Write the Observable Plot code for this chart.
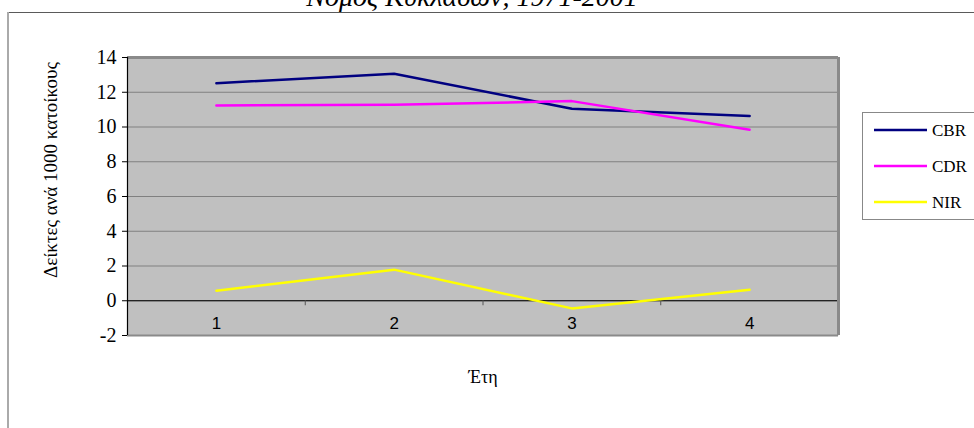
<!DOCTYPE html>
<html>
<head>
<meta charset="utf-8">
<script src="https://cdn.jsdelivr.net/npm/d3@7"></script>
<script src="https://cdn.jsdelivr.net/npm/@observablehq/plot@0.6"></script>
<style>
  html, body { margin: 0; padding: 0; background: #fff; }
  #wrap { position: relative; width: 974px; height: 428px; overflow: hidden; background: #fff; }
  #wrap > svg { position: absolute; left: 0; top: 0; }
  #wrap text.serif, #wrap .serif text { font-family: "Liberation Serif", "Times New Roman", serif !important; }
</style>
</head>
<body>
<div id="wrap"></div>
<script>
// ---- data ----
const titleText = "Νομός Κυκλάδων, 1971-2001";
const yLabel = "Δείκτες ανά 1000 κατοίκους";
const xLabel = "Έτη";
const years = [1, 2, 3, 4];
const cbr = [12.52, 13.07, 11.05, 10.64];
const cdr = [11.24, 11.28, 11.49, 9.84];
const nir = [0.58, 1.79, -0.44, 0.63];
const seriesNames = ["CBR", "CDR", "NIR"];
const seriesColors = ["#000080", "#ff00ff", "#ffff00"];
const yTicks = [-2, 0, 2, 4, 6, 8, 10, 12, 14];
const xBoundaries = [1.5, 2.5, 3.5, 4.5];

const seriesValues = [cbr, cdr, nir];
const rows = seriesNames.flatMap((s, si) => years.map((yr, i) => ({series: s, year: yr, value: seriesValues[si][i]})));

const serif = "Liberation Serif";
const sans = "Liberation Sans";

const chart = Plot.plot({
  width: 974,
  height: 428,
  marginLeft: 127,
  marginRight: 136,
  marginTop: 57,
  marginBottom: 93,
  style: {background: "transparent", fontFamily: serif, fontSize: "16px", color: "#000"},
  x: {type: "linear", domain: [0.5, 4.5], axis: null},
  y: {domain: [-2, 14], axis: null, label: null},
  color: {domain: seriesNames, range: seriesColors},
  marks: [
    Plot.frame({fill: "#c0c0c0", stroke: null}),
    Plot.gridY(yTicks, {stroke: "#808080", strokeOpacity: 1, strokeWidth: 1}),
    Plot.ruleY([0], {stroke: "#000", strokeWidth: 1}),
    Plot.ruleX(xBoundaries, {x: d => d, y1: () => 0, y2: () => 0, insetBottom: -5, stroke: "#555"}),
    Plot.ruleY([-2], {stroke: "#8a8a8a", strokeWidth: 2}),
    Plot.ruleY([14], {stroke: "#8a8a8a", strokeWidth: 3}),
    Plot.ruleX([4.5], {stroke: "#8a8a8a", strokeWidth: 3}),
    Plot.ruleX([0.5], {stroke: "#000", strokeWidth: 1.2}),
    Plot.axisY({ticks: yTicks, label: null, tickFormat: d => String(d), tickSize: 5, tickPadding: 6,
      fontSize: 20, fontFamily: serif, stroke: "#000", className: "serif"}),
    Plot.text(years, {x: d => d, y: () => -2, dy: -12, text: d => String(d), fontSize: 17, fontFamily: sans, fill: "#000"}),
    Plot.line(rows, {x: "year", y: "value", z: "series", stroke: "series", strokeWidth: 2.5})
  ]
});
chart.querySelectorAll('g[aria-label="y-axis tick label"] text').forEach(t => {
  t.setAttribute("font-family", serif); t.style.fontFamily = serif; t.style.fontSize = "20px";
});

const wrap = document.getElementById("wrap");
wrap.appendChild(chart);

// ---- overlay: border, title, labels, legend ----
const ov = d3.select(wrap).append("svg")
  .attr("width", 974).attr("height", 428)
  .style("font-family", serif);

ov.append("line").attr("x1", 8).attr("x2", 974).attr("y1", 12.5).attr("y2", 12.5).attr("stroke", "#5a5a5a").attr("stroke-width", 1.2);
ov.append("line").attr("x1", 8).attr("x2", 8).attr("y1", 12).attr("y2", 428).attr("stroke", "#aaaaaa").attr("stroke-width", 2);

ov.append("text").attr("class", "serif").attr("x", 472).attr("y", 6).attr("text-anchor", "middle")
  .attr("font-family", serif).attr("font-size", 28).attr("font-style", "italic").text(titleText);

ov.append("text").attr("class", "serif").attr("transform", "translate(57,170) rotate(-90)").attr("text-anchor", "middle")
  .attr("font-family", serif).attr("font-size", 19).text(yLabel);

ov.append("text").attr("class", "serif").attr("x", 483).attr("y", 383).attr("text-anchor", "middle")
  .attr("font-family", serif).attr("font-size", 18).text(xLabel);

const lg = ov.append("g");
lg.append("rect").attr("x", 862.5).attr("y", 112.5).attr("width", 130).attr("height", 107)
  .attr("fill", "#fff").attr("stroke", "#888");
seriesNames.forEach((s, i) => {
  const cy = 130 + i * 36;
  lg.append("line").attr("x1", 874).attr("x2", 927).attr("y1", cy).attr("y2", cy)
    .attr("stroke", seriesColors[i]).attr("stroke-width", 2.5);
  lg.append("text").attr("class", "serif").attr("x", 932).attr("y", cy + 6)
    .attr("font-family", serif).attr("font-size", 17).text(s);
});
</script>
</body>
</html>
